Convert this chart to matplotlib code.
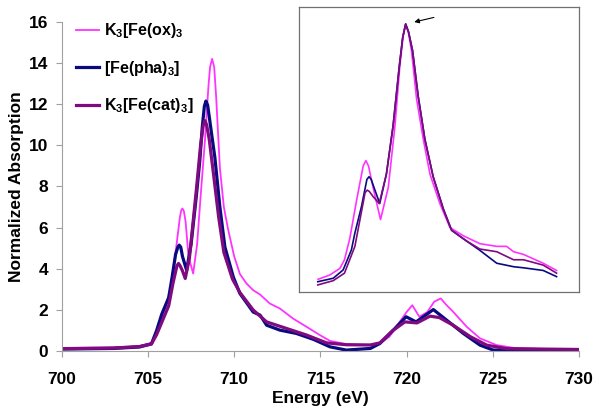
import numpy as np
import matplotlib
matplotlib.use("Agg")
import matplotlib.pyplot as plt

plt.rcParams['font.family'] = ['Liberation Sans', 'DejaVu Sans']
plt.rcParams['mathtext.fontset'] = 'custom'
plt.rcParams['mathtext.bf'] = 'Liberation Sans:bold'
plt.rcParams['mathtext.rm'] = 'Liberation Sans:bold'

# Main spectra (energy eV, normalized absorption)
ox_E = [700, 703, 704.5, 705.2, 705.6, 706.0, 706.3, 706.6, 706.85, 706.93, 707.0, 707.08,
        707.18, 707.35, 707.62, 707.85, 708.05, 708.3, 708.5, 708.6, 708.72, 708.84,
        708.95, 709.17, 709.4, 709.65, 710.0, 710.33, 710.7, 711.1, 711.5, 712.07,
        712.65, 713.4, 714.2, 714.97, 715.55, 716.5, 717.9, 718.5, 719.0, 719.5,
        720.0, 720.33, 720.74, 721.2, 721.6, 721.98, 722.3, 722.7, 723.49, 724.26,
        725.23, 726.2, 728, 730]
ox_A = [0.15, 0.18, 0.25, 0.4, 1.2, 2.1, 3.0, 4.8, 6.5, 6.85, 6.93, 6.8,
        6.3, 4.6, 3.77, 5.2, 7.5, 10.2, 12.8, 13.8, 14.2, 13.8,
        12.4, 8.9, 7.0, 5.9, 4.6, 3.75, 3.3, 2.96, 2.75, 2.31,
        2.07, 1.59, 1.18, 0.78, 0.5, 0.34, 0.29, 0.4, 0.7, 1.3,
        1.9, 2.23, 1.67, 1.9, 2.4, 2.56, 2.25, 1.91, 1.18, 0.62,
        0.29, 0.16, 0.1, 0.08]

pha_E = [700, 703, 704.5, 705.2, 705.5, 705.8, 706.0, 706.2, 706.4, 706.6, 706.73, 706.81,
         706.9, 707.0, 707.24, 707.5, 707.8, 708.0, 708.15, 708.27, 708.36, 708.46, 708.6,
         708.88, 709.17, 709.46, 709.95, 710.33, 711.1, 711.5, 711.88, 712.65, 713.6,
         714.6, 715.55, 716.5, 717.9, 718.45, 719.23, 719.97, 720.55, 721.55, 722.33,
         723.29, 724.26, 725.03, 730]
pha_A = [0.1, 0.13, 0.2, 0.35, 1.0, 1.8, 2.2, 2.6, 3.6, 4.7, 5.05, 5.15,
         5.05, 4.6, 3.93, 5.2, 7.5, 9.2, 10.9, 11.9, 12.15, 11.95, 11.1,
         9.4, 7.0, 5.06, 3.6, 2.8, 1.9, 1.75, 1.26, 1.02, 0.86,
         0.57, 0.21, 0.05, 0.13, 0.37, 1.02, 1.67, 1.42, 2.02, 1.5,
         0.86, 0.29, 0.05, 0.05]

cat_E = [700, 703, 704.5, 705.2, 705.5, 705.9, 706.2, 706.45, 706.68, 706.77, 706.86,
         707.0, 707.16, 707.4, 707.8, 708.05, 708.2, 708.3, 708.4, 708.55, 708.8,
         709.1, 709.4, 709.9, 710.33, 711.1, 711.88, 713.04, 714.2, 715.36, 716.5,
         717.9, 718.45, 719.2, 719.9, 720.6, 721.36, 721.9, 722.7, 723.7, 724.65,
         725.8, 730]
cat_A = [0.12, 0.15, 0.22, 0.35, 0.8, 1.6, 2.2, 3.3, 4.15, 4.26, 4.15,
         3.9, 3.53, 4.5, 7.8, 10.0, 10.95, 11.2, 11.0, 10.3, 8.6,
         6.5, 4.8, 3.5, 2.85, 2.0, 1.42, 1.1, 0.78, 0.4, 0.31,
         0.3, 0.4, 1.0, 1.42, 1.37, 1.7, 1.63, 1.26, 0.7, 0.29,
         0.12, 0.08]

# Inset: peak-aligned, normalized to maximum
in_ox_E = [705.01, 705.45, 705.83, 706.0, 706.2, 706.45, 706.7, 706.8, 706.9, 707.07,
           707.35, 707.64, 707.89, 708.07, 708.19, 708.29, 708.39, 708.51, 708.7, 708.95,
           709.2, 709.57, 709.95, 710.44, 711.07, 711.7, 712.07, 712.33, 712.7, 713.44,
           713.94]
in_ox_N = [0.047, 0.063, 0.088, 0.12, 0.2, 0.34, 0.47, 0.49, 0.47, 0.39,
           0.27, 0.39, 0.62, 0.84, 0.95, 1.0, 0.97, 0.9, 0.72, 0.57,
           0.44, 0.33, 0.24, 0.21, 0.18, 0.17, 0.17, 0.15, 0.14, 0.107,
           0.08]

in_pha_E = [705.0, 705.58, 705.95, 706.26, 706.39, 706.64, 706.84, 706.92, 707.0, 707.14,
            707.32, 707.57, 707.82, 708.05, 708.18, 708.29, 708.4, 708.55, 708.76, 709.01,
            709.32, 709.7, 710.01, 710.57, 711.07, 711.7, 712.33, 712.7, 713.44, 713.94]
in_pha_N = [0.038, 0.051, 0.082, 0.157, 0.22, 0.32, 0.42, 0.43, 0.42, 0.38,
            0.33, 0.44, 0.62, 0.84, 0.95, 1.0, 0.97, 0.9, 0.73, 0.57,
            0.43, 0.31, 0.23, 0.19, 0.155, 0.107, 0.094, 0.09, 0.08, 0.057]

in_cat_E = [705.0, 705.58, 706.0, 706.39, 706.58, 706.77, 706.85, 706.93, 707.07, 707.3,
            707.57, 707.82, 708.05, 708.18, 708.29, 708.4, 708.55, 708.76, 709.01, 709.32,
            709.7, 710.01, 710.57, 711.07, 711.7, 712.33, 712.7, 713.44, 713.94]
in_cat_N = [0.026, 0.042, 0.07, 0.17, 0.27, 0.37, 0.38, 0.375, 0.356, 0.33,
            0.44, 0.62, 0.84, 0.95, 1.0, 0.97, 0.9, 0.73, 0.57, 0.43,
            0.31, 0.23, 0.19, 0.16, 0.15, 0.12, 0.12, 0.1, 0.07]

labels = ['K$_\\mathbf{3}$[Fe(ox)$_\\mathbf{3}$', '[Fe(pha)$_\\mathbf{3}$]',
          'K$_\\mathbf{3}$[Fe(cat)$_\\mathbf{3}$]']
colors = ['#FF33FF', '#0A0A80', '#800A80']

fig = plt.figure(figsize=(6, 4.2), dpi=100)
ax = fig.add_axes([0.103, 0.164, 0.862, 0.784])

ax.plot(ox_E, ox_A, color=colors[0], lw=1.3, label=labels[0])
ax.plot(pha_E, pha_A, color=colors[1], lw=2.3, label=labels[1])
ax.plot(cat_E, cat_A, color=colors[2], lw=2.3, label=labels[2])

ax.set_xlim(700, 730)
ax.set_ylim(0, 16)
ax.set_xticks(range(700, 731, 5))
ax.set_yticks(range(0, 17, 2))
for s in ['top', 'right']:
    ax.spines[s].set_visible(False)
for s in ['left', 'bottom']:
    ax.spines[s].set_color('#A0A0A0')
ax.tick_params(direction='out', length=4, color='#A0A0A0', labelsize=12.5)
ax.tick_params(axis='x', pad=11)
ax.tick_params(axis='y', pad=6)
for t in ax.get_xticklabels() + ax.get_yticklabels():
    t.set_fontweight('bold')
ax.set_xlabel('Energy (eV)', fontsize=12.5, fontweight='bold', labelpad=3)
ax.set_ylabel('Normalized Absorption', fontsize=12.5, fontweight='bold', labelpad=3)

leg = ax.legend(loc='upper left', bbox_to_anchor=(0.0, 1.045), frameon=False,
                handlelength=1.4, handletextpad=0.35, labelspacing=1.15,
                prop={'weight': 'bold', 'size': 11.5})

# Inset
axi = fig.add_axes([0.498, 0.305, 0.467, 0.678])
axi.plot(in_ox_E, in_ox_N, color=colors[0], lw=1.2)
axi.plot(in_pha_E, in_pha_N, color=colors[1], lw=1.2)
axi.plot(in_cat_E, in_cat_N, color=colors[2], lw=1.2)
axi.set_xlim(704.29, 714.78)
axi.set_ylim(0, 1.063)
axi.set_xticks([])
axi.set_yticks([])
for s in axi.spines.values():
    s.set_color('#707070')
    s.set_linewidth(0.9)
axi.annotate('', xy=(708.51, 1.005), xytext=(709.45, 1.027),
             arrowprops=dict(arrowstyle='-|>', color='black', lw=0.8,
                             mutation_scale=7))

fig.savefig('out.png', dpi=100)
